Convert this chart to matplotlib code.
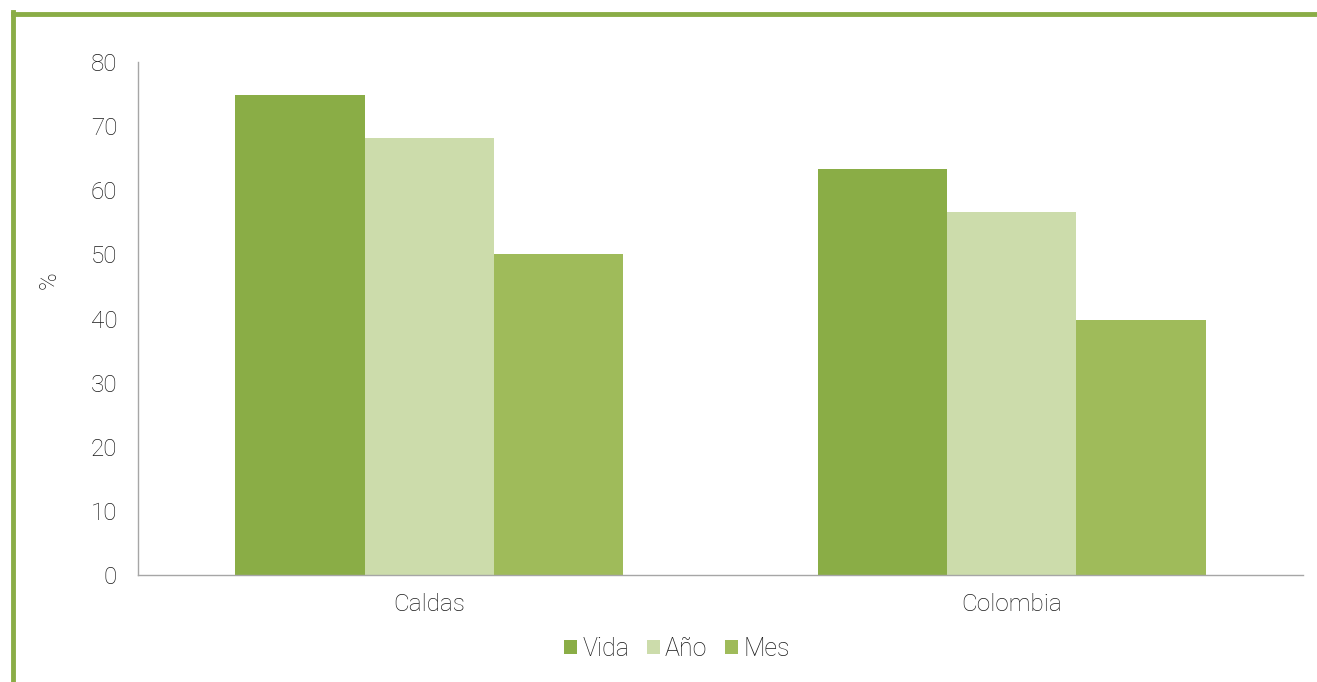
import numpy as np
import matplotlib.pyplot as plt
from matplotlib.lines import Line2D

categories = ['Caldas', 'Colombia']
series = ['Vida', 'Año', 'Mes']
vida = [74.9, 63.3]
anio = [68.2, 56.6]
mes = [50.1, 39.8]
colors = ['#8aad46', '#ccdcab', '#9fbb5a']

plt.rcParams['font.family'] = ['Roboto', 'DejaVu Sans']

fig = plt.figure(figsize=(13.17, 6.82), dpi=100)
ax = fig.add_axes([138/1317, 1-575/682, (1303-138)/1317, (575-62)/682])

x = np.arange(len(categories))
w = 0.222
for i, (vals, c) in enumerate(zip([vida, anio, mes], colors)):
    ax.bar(x + (i-1)*w, vals, w, color=c, label=series[i])

ax.set_xlim(-0.5, 1.5)
ax.set_ylim(0, 80)
ax.set_yticks(range(0, 81, 10))
ax.set_xticks(x)
ax.set_xticklabels(categories)
ax.tick_params(length=0, labelsize=17.5, colors='#1a1a1a')
ax.tick_params(axis='y', pad=15)
ax.tick_params(axis='x', pad=13)
for lbl in ax.get_xticklabels() + ax.get_yticklabels():
    lbl.set_fontweight('light')
for s in ['top', 'right']:
    ax.spines[s].set_visible(False)
for s in ['left', 'bottom']:
    ax.spines[s].set_color('#a6a6a6')
    ax.spines[s].set_linewidth(1)
ax.set_ylabel('%', fontsize=17, fontweight='light', color='#1a1a1a')
ax.yaxis.set_label_coords((61-138)/(1303-138), (575-280)/(575-62))

fig.legend(loc='center', bbox_to_anchor=(677/1317, 1-649/682), ncol=3, frameon=False,
           handlelength=0.52, handleheight=0.52, handletextpad=0.2,
           columnspacing=0.72, prop={'weight': 'light', 'size': 18},
           labelcolor='#1a1a1a')

# green frame top and left
fig.add_artist(Line2D([13/1317, 1], [1-14/682, 1-14/682], color='#8aad46', lw=3.5))
fig.add_artist(Line2D([13/1317, 13/1317], [0, 1-12.3/682], color='#8aad46', lw=3.5))

fig.savefig('out.png', dpi=100)
